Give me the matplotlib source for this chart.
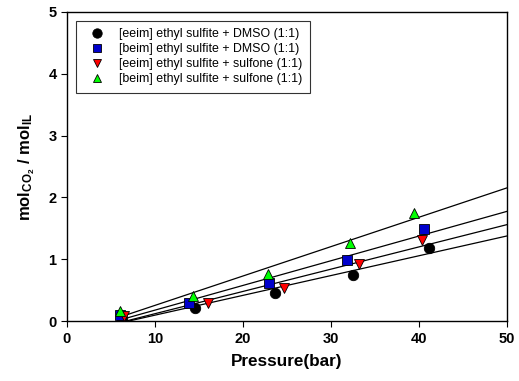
import numpy as np
import matplotlib
matplotlib.use('Agg')
import matplotlib.pyplot as plt

plt.rcParams['font.family'] = ['Liberation Sans', 'DejaVu Sans']
plt.rcParams['mathtext.fontset'] = 'custom'
plt.rcParams['mathtext.rm'] = 'Liberation Sans:bold'
plt.rcParams['mathtext.bf'] = 'Liberation Sans:bold'
plt.rcParams['mathtext.it'] = 'Liberation Sans:bold'

# Data: pressure (bar) vs mol CO2 / mol IL
labels = ['[eeim] ethyl sulfite + DMSO (1:1)',
          '[beim] ethyl sulfite + DMSO (1:1)',
          '[eeim] ethyl sulfite + sulfone (1:1)',
          '[beim] ethyl sulfite + sulfone (1:1)']

p_eeim_dmso = [6.2, 14.5, 23.6, 32.5, 41.1]
s_eeim_dmso = [0.05, 0.22, 0.45, 0.75, 1.19]

p_beim_dmso = [6.0, 13.9, 23.0, 31.8, 40.6]
s_beim_dmso = [0.10, 0.30, 0.62, 0.99, 1.49]

p_eeim_sulf = [6.5, 16.0, 24.7, 33.2, 40.3]
s_eeim_sulf = [0.08, 0.30, 0.54, 0.92, 1.31]

p_beim_sulf = [6.0, 14.3, 22.8, 32.2, 39.4]
s_beim_sulf = [0.16, 0.41, 0.77, 1.26, 1.75]

series = [
    (p_eeim_dmso, s_eeim_dmso, 'o', 'black', 7.5),
    (p_beim_dmso, s_beim_dmso, 's', '#0000cc', 6.5),
    (p_eeim_sulf, s_eeim_sulf, 'v', 'red', 7.0),
    (p_beim_sulf, s_beim_sulf, '^', '#00ff00', 7.0),
]

fig = plt.figure(figsize=(5.19, 3.81), dpi=100)
ax = fig.add_axes([0.129, 0.157, 0.848, 0.812])

# linear fits, drawn from the first pressure out to 50 bar
for (p, s, m, c, ms), lab in zip(series, labels):
    k, b = np.polyfit(p, s, 1)
    xfit = np.linspace(min(p), 50, 100)
    ax.plot(xfit, k * xfit + b, color='black', lw=0.9, zorder=2)
for (p, s, m, c, ms), lab in zip(series, labels):
    ax.plot(p, s, linestyle='none', marker=m, color=c, markersize=ms,
            markeredgecolor='black', markeredgewidth=0.6, label=lab, zorder=3)

ax.set_xlim(0, 50)
ax.set_ylim(0, 5)
ax.set_xticks(range(0, 51, 10))
ax.set_yticks(range(0, 6))
ax.tick_params(direction='out', length=4, width=0.8, labelsize=10.5)
for t in ax.get_xticklabels() + ax.get_yticklabels():
    t.set_fontweight('bold')
for sp in ax.spines.values():
    sp.set_linewidth(1.0)

ax.set_xlabel('Pressure(bar)', fontsize=12.3, fontweight='bold', labelpad=6)
ax.set_ylabel(r'mol$_{\mathregular{CO_2}}$ / mol$_{\mathregular{IL}}$',
              fontsize=12, fontweight='bold', labelpad=8)

leg = ax.legend(loc='upper left', bbox_to_anchor=(0.02, 0.971), fontsize=8.9,
                frameon=True, fancybox=False, edgecolor='black',
                handletextpad=0.6, borderpad=0.6, labelspacing=0.25,
                handlelength=2.3, borderaxespad=0, markerscale=0.9)
leg.get_frame().set_linewidth(0.8)

plt.savefig('out.png', dpi=100)
